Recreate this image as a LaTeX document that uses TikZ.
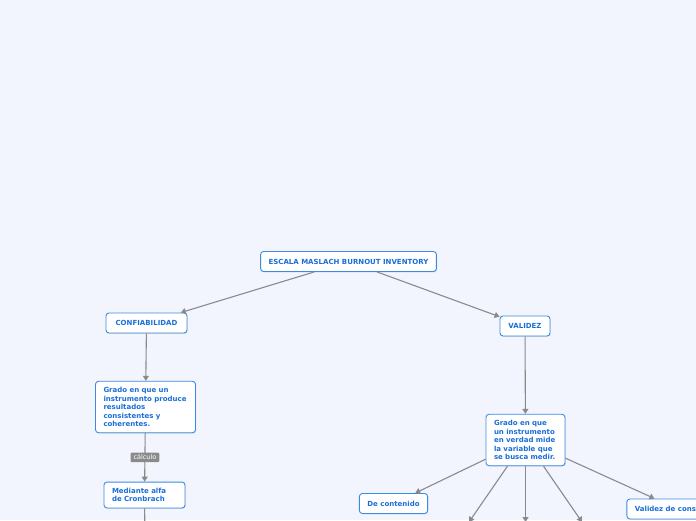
\documentclass[tikz,border=0pt]{standalone}
\usepackage{fontspec}
\setmainfont{DejaVu Sans}
\usepackage{tikz}
\usetikzlibrary{arrows.meta}
\usetikzlibrary{shadows}
\definecolor{pagebg}{HTML}{F2F5FD}
\definecolor{boxline}{HTML}{3C8BE3}
\definecolor{boxtext}{HTML}{1A6ED8}
\definecolor{edgegray}{HTML}{8A8A8A}

\begin{document}
\begin{tikzpicture}[x=1pt, y=-1pt,
    topic/.style={draw=boxline, line width=0.9pt, fill=white, rounded corners=3pt,
      drop shadow={shadow xshift=0.6pt, shadow yshift=-0.8pt, opacity=0.25},
      font=\fontsize{7}{8.5}\selectfont\bfseries, text=boxtext,
      minimum height=20pt, inner xsep=8pt},
    note/.style={topic, minimum height=0pt, inner ysep=6pt, align=left},
    link/.style={draw=edgegray, line width=1.1pt,
      -{Triangle[width=6pt,length=5pt]}},
    tag/.style={fill=edgegray, text=white, rounded corners=1pt,
      font=\fontsize{6.5}{7}\selectfont, inner xsep=3pt, inner ysep=2pt}]
  \useasboundingbox (0,0) rectangle (696,520);
  \fill[pagebg] (0,0) rectangle (696,520);
  \clip (0,0) rectangle (696,520);

  % main topic
  \node[topic] (root) at (348.5,261.5) {ESCALA MASLACH BURNOUT INVENTORY};

  % left branch
  \node[topic, minimum width=81pt] (confi) at (146.5,323) {CONFIABILIDAD};
  \node[note, text width=84pt] (gradoC) at (145.5,407)
    {Grado en que un\\ instrumento produce\\ resultados\\ consistentes y\\ coherentes.};
  \node[note, text width=65pt] (alfa) at (144.5,495) {Mediante alfa\\ de Cronbrach};
  \coordinate (alfaOut) at (145,545);

  % right branch
  \node[topic, minimum width=50pt] (valid) at (525,326) {VALIDEZ};
  \node[note, text width=63pt] (gradoV) at (525.5,440)
    {Grado en que\\ un instrumento\\ en verdad mide\\ la variable que\\ se busca medir.};
  \node[topic, minimum width=67pt] (conten) at (393.5,503.5) {De contenido};
  \node[topic] (constr) at (677.5,509) {Validez de constructo};
  %\coordinate (criterio) at (469,522);
  \coordinate (outA) at (469,522);
  \coordinate (outB) at (525.5,522);
  \coordinate (outC) at (582,522);

  \draw[link] (root) -- (confi);
  \draw[link] (root) -- (valid);
  \draw[link] (confi) -- (gradoC);
  \draw[link] (gradoC) -- (alfa) node[midway, tag] {cálculo};
  \draw[link] (alfa) -- (alfaOut);
  \draw[link] (valid) -- (gradoV);
  \draw[link] (gradoV) -- (conten);
  \draw[link] (gradoV) -- (outA);
  \draw[link] (gradoV) -- (outB);
  \draw[link] (gradoV) -- (outC);
  \draw[link] (gradoV) -- (constr);
\end{tikzpicture}
\end{document}
